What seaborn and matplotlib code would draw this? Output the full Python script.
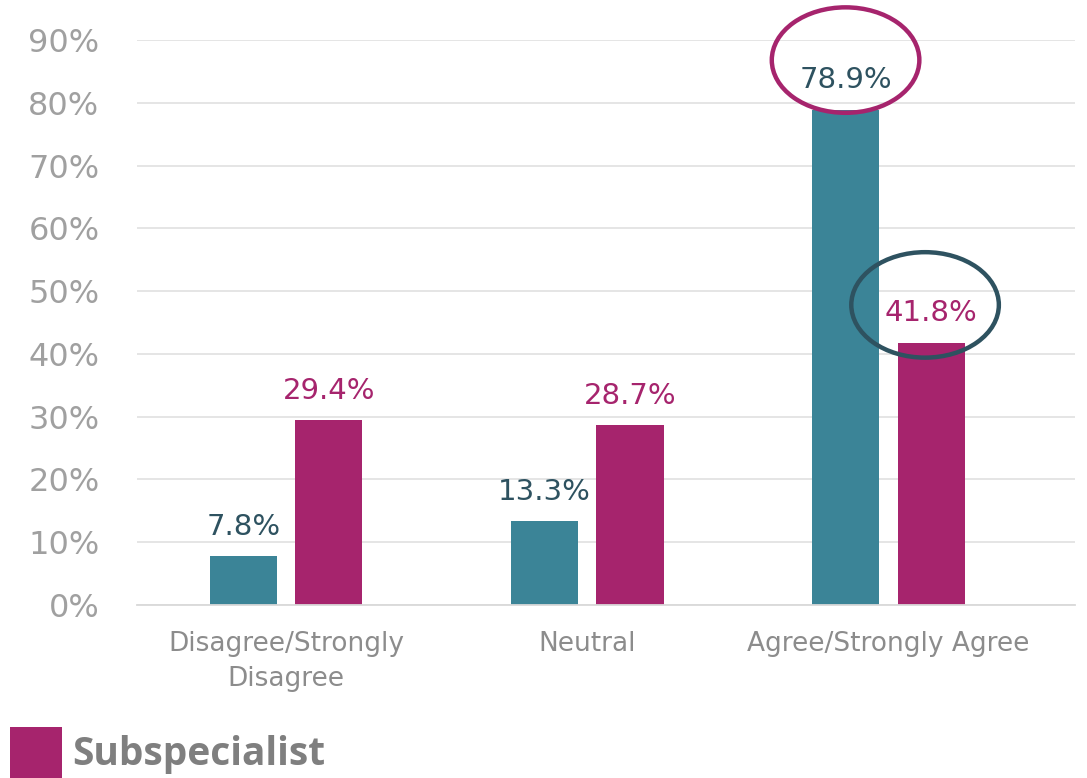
import pandas as pd
import matplotlib.pyplot as plt
import seaborn as sns
from matplotlib.patches import Ellipse, Rectangle
from matplotlib.ticker import FuncFormatter

# Data
categories = ["Disagree/Strongly\nDisagree", "Neutral", "Agree/Strongly Agree"]
groups = ["Generalist", "Subspecialist"]
generalist = [7.8, 13.3, 78.9]
subspecialist = [29.4, 28.7, 41.8]

teal = "#3B8497"
magenta = "#A6246D"
teal_text = "#2E5260"
grey = "#A0A0A0"

df = pd.DataFrame({
    "category": categories * 2,
    "group": [groups[0]] * 3 + [groups[1]] * 3,
    "value": generalist + subspecialist,
})

sns.set_style("white")
plt.rcParams["font.family"] = ["DejaVu Sans"]

fig = plt.figure(figsize=(10.87, 7.78), dpi=100)
ax = fig.add_axes([0.126, 0.2224, 0.863, 0.7262])

sns.barplot(data=df, x="category", y="value", hue="group", order=categories,
            hue_order=groups, palette=[teal, magenta], width=0.568, gap=0.215,
            saturation=1, linewidth=0, legend=False, ax=ax)

ax.set_ylim(0, 90)
ax.set_xlim(-0.495, 2.62)
ax.set_yticks(range(0, 91, 10))
ax.yaxis.set_major_formatter(FuncFormatter(lambda v, p: f"{v:.0f}%"))
ax.grid(axis="y", color="#E3E3E3", linewidth=1.3)
ax.set_axisbelow(True)
for s in ["left", "right", "top"]:
    ax.spines[s].set_visible(False)
ax.spines["bottom"].set_color("#D9D9D9")
ax.spines["bottom"].set_linewidth(1.3)
ax.tick_params(axis="y", length=0, labelsize=23, labelcolor=grey, pad=27)
ax.tick_params(axis="x", length=0, labelsize=19, labelcolor="#8C8C8C", pad=19)
for t in ax.get_xticklabels():
    t.set_linespacing(1.45)
ax.set_xlabel("")
ax.set_ylabel("")

# value labels
label_colors = [teal_text, magenta]
for cont, col in zip(ax.containers, label_colors):
    ax.bar_label(cont, labels=[f"{v:.1f}%" for v in cont.datavalues],
                 color=col, fontsize=21, padding=11)

# highlight ellipses around the Agree labels
x_gen = 2 - 0.142
x_sub = 2 + 0.142
ax.add_patch(Ellipse((x_gen, generalist[2] + 7.9), 0.49, 16.8, fill=False,
                     edgecolor=magenta, linewidth=3.2, clip_on=False))
ax.add_patch(Ellipse((x_sub - 0.02, subspecialist[2] + 6.0), 0.49, 16.8, fill=False,
                     edgecolor=teal_text, linewidth=3.2, clip_on=False))

# partial legend at the bottom
fig.add_artist(Rectangle((0.0092, -0.01), 0.048, 0.076, transform=fig.transFigure,
                         facecolor=magenta, edgecolor="none"))
fig.text(0.066, 0.03, groups[1], fontsize=28, fontweight="bold", color="#7F7F7F",
         family=["Open Sans", "DejaVu Sans"], va="center")

fig.savefig("out.png", dpi=100)
